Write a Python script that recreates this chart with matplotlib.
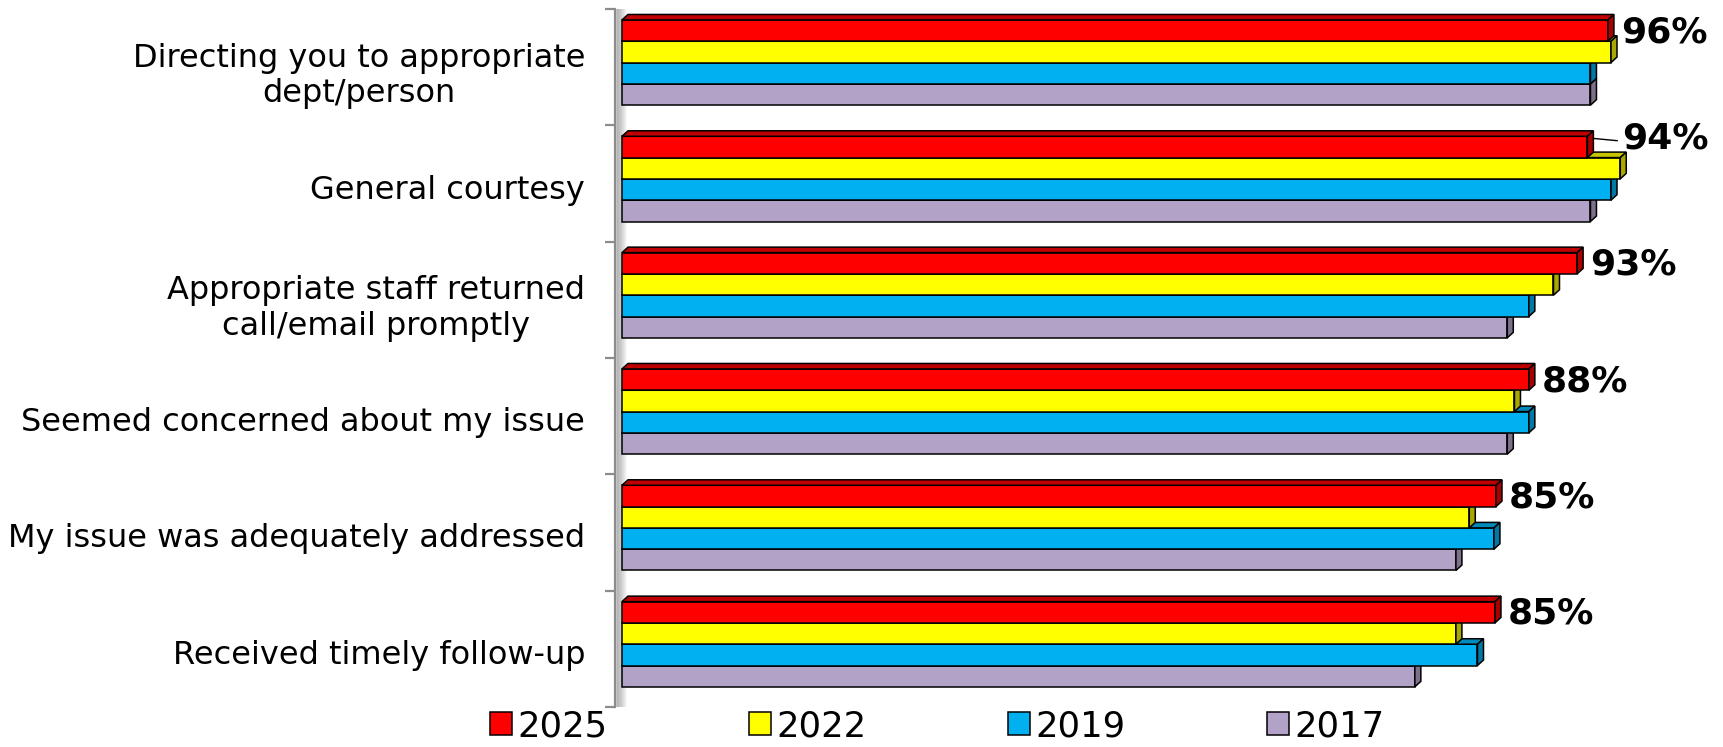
import numpy as np
import matplotlib
matplotlib.use('Agg')
import matplotlib.pyplot as plt
from matplotlib.patches import Polygon, Patch

# survey categories, top to bottom
categories = ["Directing you to appropriate\ndept/person",
              "General courtesy",
              "Appropriate staff returned\ncall/email promptly",
              "Seemed concerned about my issue",
              "My issue was adequately addressed",
              "Received timely follow-up"]
years = ["2025", "2022", "2019", "2017"]
v2025 = [96.0, 94.0, 93.0, 88.3, 85.1, 85.0]
v2022 = [96.3, 97.2, 90.7, 86.9, 82.5, 81.2]
v2019 = [94.3, 96.3, 88.3, 88.3, 84.9, 83.3]
v2017 = [94.3, 94.3, 86.2, 86.2, 81.2, 77.2]
labels_2025 = ["96%", "94%", "93%", "88%", "85%", "85%"]

series = [v2025, v2022, v2019, v2017]
# front, top, side shades
colors = [("#FF0000", "#C00000", "#A80000"),
          ("#FFFF00", "#C4C400", "#A8A800"),
          ("#00B0F0", "#0089BB", "#0079A5"),
          ("#B3A2C7", "#8C7F9C", "#7C708B")]

W, H = 1723, 747
fig = plt.figure(figsize=(W / 100, H / 100), dpi=100)
ax_l, ax_r, ax_t, ax_b = 615, 1700, 9, 707
ax = fig.add_axes([ax_l / W, 1 - ax_b / H, (ax_r - ax_l) / W, (ax_b - ax_t) / H])

px_per_x = 10.27                    # px per percent
px_per_y = (ax_b - ax_t) / 6.0      # px per category
x0 = -7 / px_per_x
ax.set_xlim(x0, x0 + (ax_r - ax_l) / px_per_x)
ax.set_ylim(6, 0)

dx = 6 / px_per_x      # 3d depth
dy = 5.5 / px_per_y
h = 21.3 / px_per_y    # bar thickness
centers = np.arange(len(categories)) + 0.5 - 4.6 / px_per_y

# bottom series first so upper bars cover the top faces of lower ones
for j in range(len(series) - 1, -1, -1):
    vals = series[j]
    front, top, side = colors[j]
    yc = centers - 2 * h + (j + 0.5) * h
    z = 10 - j
    ax.barh(yc, vals, height=h, color=front, edgecolor='black', linewidth=1.1, zorder=z)
    for y, v in zip(yc, vals):
        yt, yb = y - h / 2, y + h / 2
        ax.add_patch(Polygon([(0, yt), (v, yt), (v + dx, yt - dy), (dx, yt - dy)],
                             closed=True, fc=top, ec='black', lw=1.1, zorder=z))
        ax.add_patch(Polygon([(v, yt), (v, yb), (v + dx, yb - dy), (v + dx, yt - dy)],
                             closed=True, fc=side, ec='black', lw=1.1, zorder=z))

# data labels for 2025
yred = centers - 1.5 * h
for i, (v, lab) in enumerate(zip(v2025, labels_2025)):
    group_max = max(s[i] for s in series)
    if group_max - v > 1:
        lx = group_max + 0.2
        ly = yred[i] - 8.6 / px_per_y
        ax.plot([v + dx, lx - 0.5], [yred[i] - h * 0.4, ly + 0.02],
                color='black', lw=1, zorder=20, clip_on=False)
    else:
        lx = v + 13 / px_per_x
        ly = yred[i] + 1.5 / px_per_y
    ax.text(lx, ly, lab, fontsize=26, fontweight='bold', ha='left', va='center',
            zorder=21, clip_on=False)

# wall shading next to the axis line
for k in range(10):
    xs = x0 + (2 + k) / px_per_x
    ax.axvline(xs, color='#9a9a9a', alpha=0.6 * (1 - k / 10), lw=1.2, zorder=1)

# axes styling
for s in ['top', 'right', 'bottom']:
    ax.spines[s].set_visible(False)
ax.spines['left'].set_color('#8c8c8c')
ax.spines['left'].set_linewidth(1.6)
ax.set_xticks([])
ax.set_yticks(np.arange(7))
ax.set_yticklabels([])
ax.tick_params(axis='y', which='major', length=7, width=1.6, color='#8c8c8c')
ax.set_yticks(np.arange(len(categories)) + 0.5 + 3 / px_per_y, minor=True)
ax.set_yticklabels(categories, minor=True, fontsize=23, multialignment='center')
ax.tick_params(axis='y', which='minor', length=0, pad=21.5)

handles = [Patch(facecolor=c[0], edgecolor='black', linewidth=1.1) for c in colors]
fig.legend(handles, years, loc='center', bbox_to_anchor=(0.5440, 0.028), ncol=4,
           frameon=False, fontsize=25.5, handlelength=0.62, handleheight=0.62,
           handletextpad=0.15, columnspacing=4.0, borderpad=0)

plt.savefig("out.png", dpi=100)
